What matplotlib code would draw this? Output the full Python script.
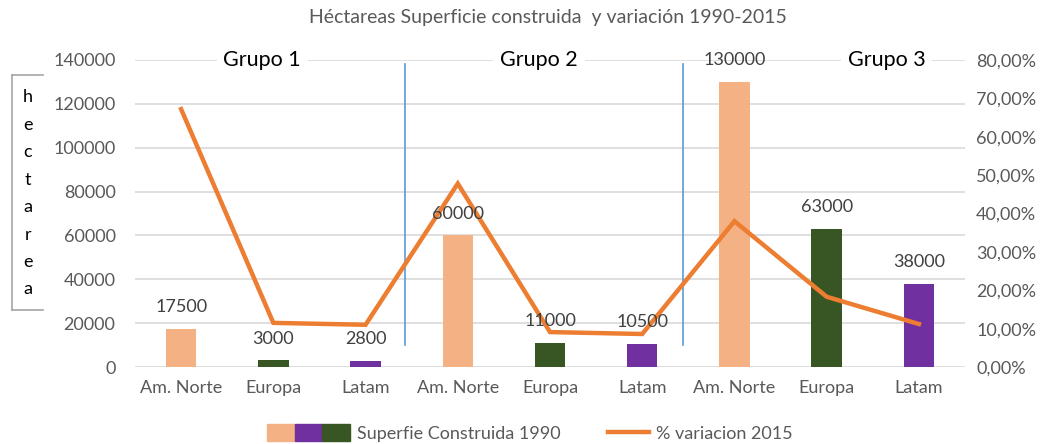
import matplotlib.pyplot as plt
from matplotlib.patches import Patch
from matplotlib.lines import Line2D
from matplotlib.legend_handler import HandlerTuple, HandlerLine2D
from matplotlib.ticker import FuncFormatter

plt.rcParams["font.family"] = ["Lato", "DejaVu Sans"]

categories = ["Am. Norte", "Europa", "Latam"] * 3
groups = ["Grupo 1", "Grupo 2", "Grupo 3"]
superficie_1990 = [17500, 3000, 2800, 60000, 11000, 10500, 130000, 63000, 38000]
variacion_2015 = [67.2, 11.5, 11.0, 47.8, 9.1, 8.6, 38.0, 18.3, 11.2]

title = "Héctareas Superficie construida  y variación 1990-2015"
ylabel = "hectarea"
bar_legend = "Superfie Construida 1990"
line_legend = "% variacion 2015"

c_norte = "#F4B183"
c_europa = "#375623"
c_latam = "#7030A0"
c_line = "#ED7D31"
c_sep = "#5B9BD5"
c_grid = "#D9D9D9"
c_text = "#595959"
bar_colors = [c_norte, c_europa, c_latam] * 3


class ShortLine(HandlerLine2D):
    # line sample drawn only on the right half of the handle box
    def get_xdata(self, legend, xdescent, ydescent, width, height, fontsize):
        return [-xdescent + width * 0.5, -xdescent + width], [-xdescent + width * 0.75]


fig = plt.figure(figsize=(10.44, 4.44), dpi=100)
ax = fig.add_axes([135 / 1044, 1 - 367 / 444, 830 / 1044, 307 / 444])
ax2 = ax.twinx()

x = list(range(len(categories)))
ax.bar(x, superficie_1990, width=0.33, color=bar_colors, zorder=2)

ax2.plot(x, variacion_2015, color=c_line, lw=3.2, solid_joinstyle="miter", zorder=3)

# value labels go on the top axes so they sit over the line
for xi, v in zip(x, superficie_1990):
    ax2.annotate(str(v), (xi, v), xycoords=ax.transData, xytext=(0, 10),
                 textcoords="offset points", ha="center", va="bottom",
                 fontsize=13, color="#404040", zorder=5)

ax.set_xlim(-0.5, len(categories) - 0.5)
ax.set_ylim(0, 140000)
ax.set_yticks(range(0, 140001, 20000))
ax2.set_ylim(0, 80)
ax2.set_yticks(range(0, 81, 10))
ax2.yaxis.set_major_formatter(FuncFormatter(lambda v, p: f"{v:.2f}%".replace(".", ",")))

ax.set_xticks(x)
ax.set_xticklabels(categories)
ax.grid(axis="y", color=c_grid, lw=1.2, zorder=0)
ax.set_axisbelow(True)

for a in (ax, ax2):
    for s in a.spines.values():
        s.set_visible(False)
    a.tick_params(length=0, labelsize=13, labelcolor=c_text)
ax.tick_params(axis="y", pad=14)
ax2.tick_params(axis="y", pad=8)
ax.tick_params(axis="x", pad=9)

ax2.set_zorder(ax.get_zorder() + 1)
ax2.patch.set_visible(False)

# group separators and group names
for sx in [2.43, 5.44]:
    ax.axvline(sx, ymin=0.072, ymax=0.987, color=c_sep, lw=1.2, zorder=1)
for gx, g in zip([0.88, 3.88, 7.65], groups):
    ax.text(gx, 140000, g, ha="center", va="center", fontsize=15.5, color="black",
            bbox=dict(facecolor="white", edgecolor="none", pad=5), zorder=4)

fig.text(548 / 1044, 1 - 18 / 444, title, ha="center", va="center", fontsize=14, color=c_text)

# vertical y label in a box
for i, ch in enumerate(ylabel):
    fig.text(28 / 1044, 1 - (97 + i * 27.5) / 444, ch, ha="center", va="center", fontsize=13, color="black")
bx0, bx1, by0, by1 = 12 / 1044, 43 / 1044, 1 - 310 / 444, 1 - 75 / 444
for xs, ys in [([bx1, bx0], [by1, by1]), ([bx0, bx0], [by1, by0]), ([bx0, bx1], [by0, by0])]:
    fig.add_artist(Line2D(xs, ys, color="#A6A6A6", lw=1.2))

line_handle = Line2D([], [], color=c_line, lw=3.2)
handles = [
    (Patch(color=c_norte), Patch(color=c_latam), Patch(color=c_europa)),
    line_handle,
]
fig.legend(handles, [bar_legend, line_legend], loc="center", bbox_to_anchor=(530 / 1044, 1 - 433 / 444),
           ncol=2, frameon=False, fontsize=13, labelcolor=c_text, handlelength=4.6, handleheight=1.0,
           columnspacing=0.3, handletextpad=0.4,
           handler_map={tuple: HandlerTuple(ndivide=None, pad=0), line_handle: ShortLine()})

fig.savefig("out.png", dpi=100)
